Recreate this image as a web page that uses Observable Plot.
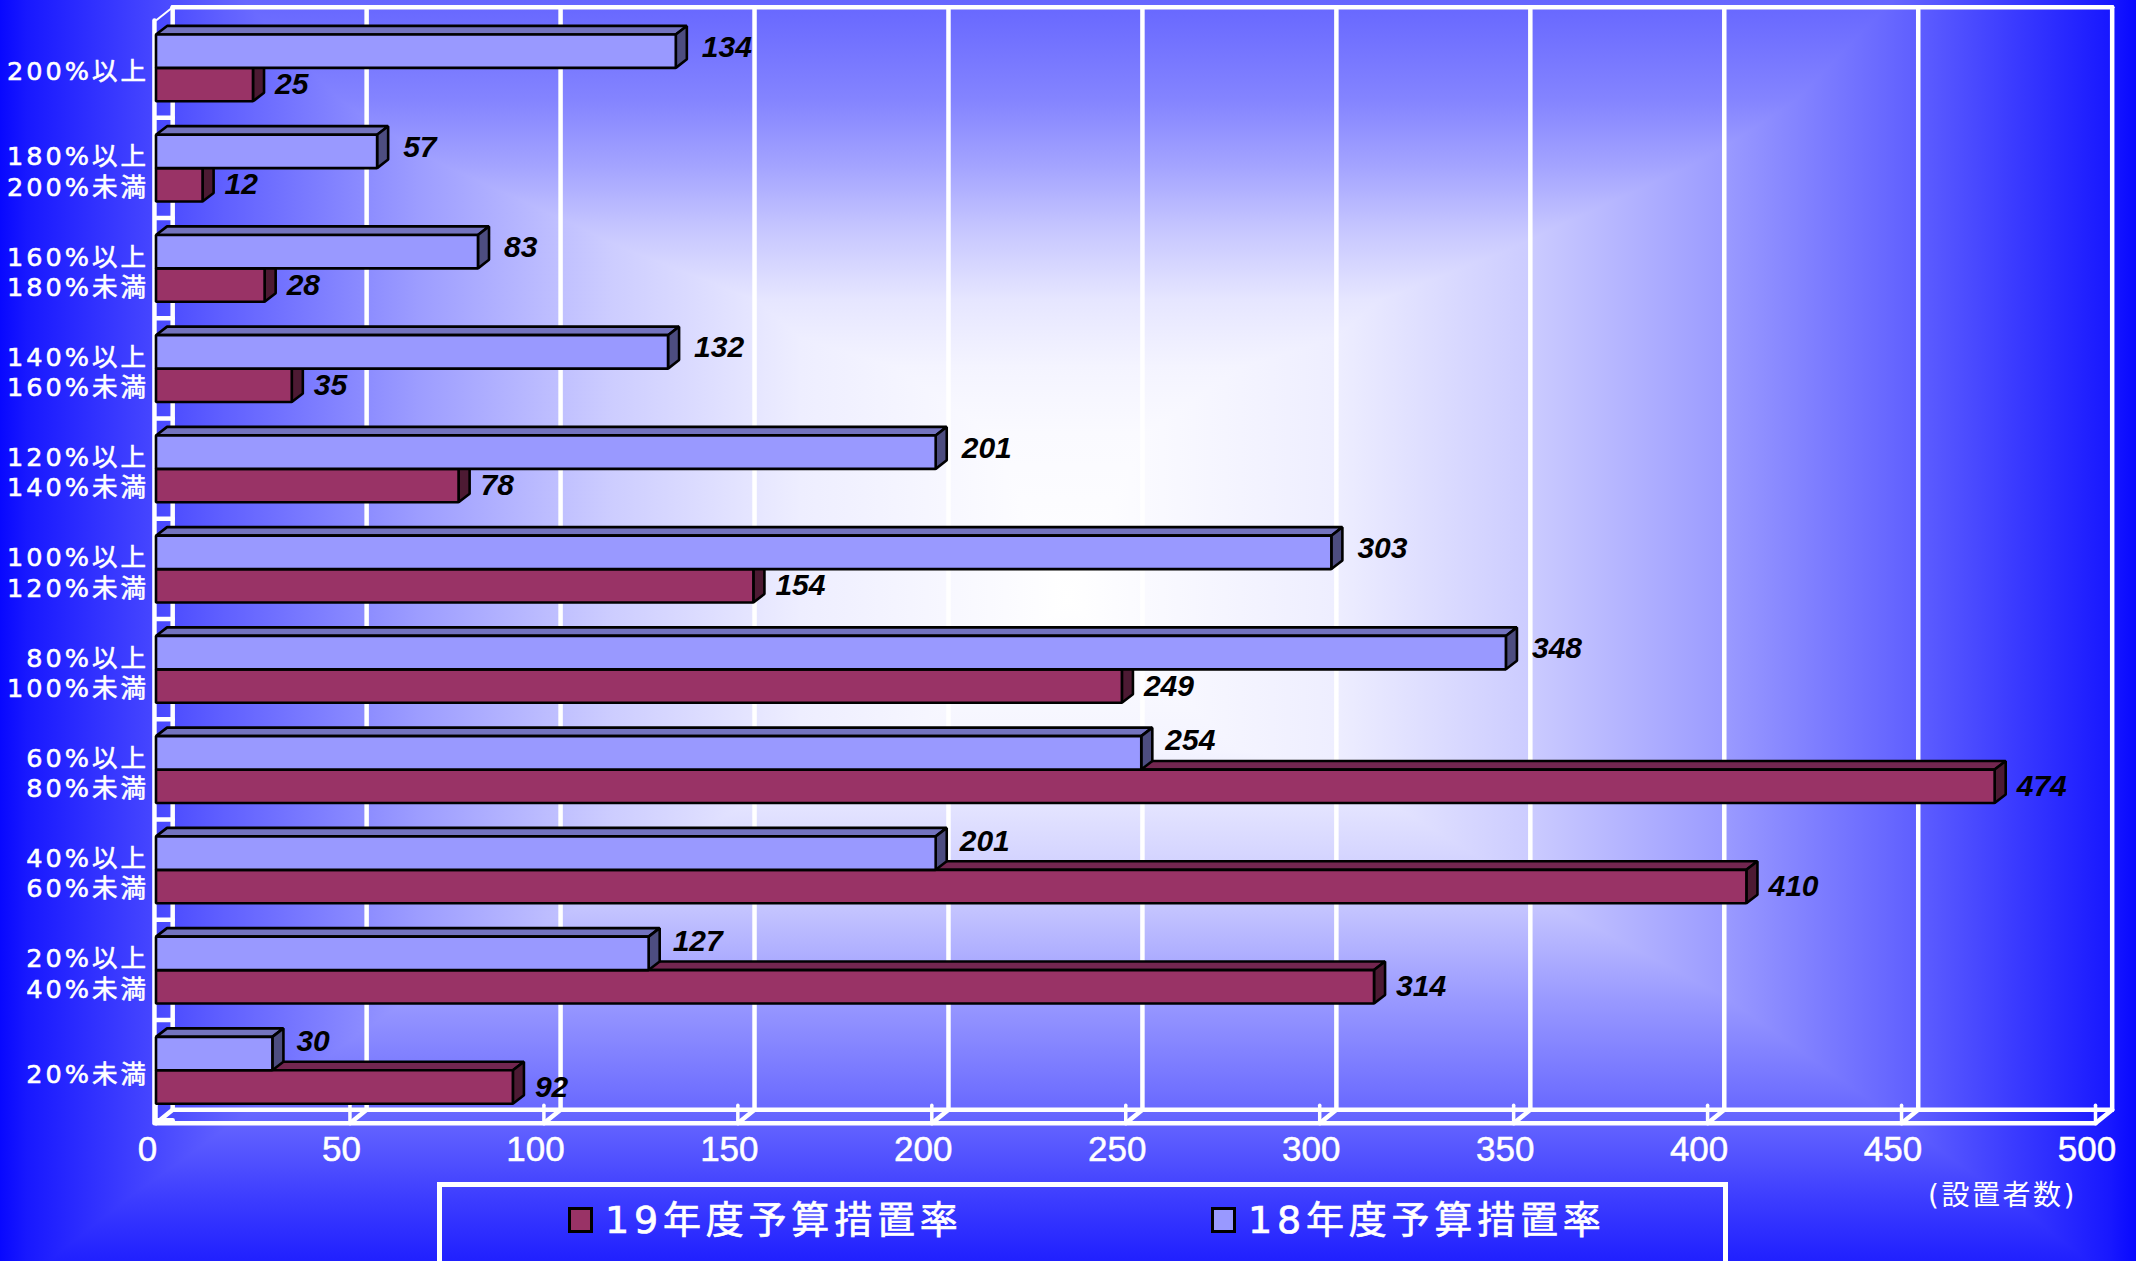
<!DOCTYPE html>
<html lang="ja">
<head>
<meta charset="utf-8">
<script src="https://cdn.jsdelivr.net/npm/d3@7"></script>
<script src="https://cdn.jsdelivr.net/npm/@observablehq/plot@0.6"></script>
<style>
  html, body { margin: 0; padding: 0; width: 2136px; height: 1261px; overflow: hidden; }
  body {
    position: relative;
    background-color: #fff;
    background-image:
      linear-gradient(to right, #0808ff 0, #1818ff 1.25%, #6060ff 10.5%, #9c9cff 19.5%, #ccccff 28.5%, #eeeeff 37.5%, #ffffff 50%, #eeeeff 62.5%, #ccccff 71.5%, #9c9cff 80.5%, #6060ff 89.5%, #1818ff 98.75%, #0808ff 100%),
      linear-gradient(to bottom, #6666ff 0, #8484ff 100px, #a4a4ff 167px, #c8c8ff 233px, #e6e6ff 300px, #f4f4ff 367px, #fafaff 433px, #ffffff 600px, #f4f4ff 750px, #c8c8ff 900px, #9999ff 1000px, #6060ff 1130px, #3c3cff 1200px, #2020ff 1261px);
    background-blend-mode: darken;
  }
  #chart { position: absolute; left: 0; top: 0; }
  .category-label { letter-spacing: 3px; stroke: #fff; stroke-width: 0.6px; }
  .value-label { stroke: #fff; stroke-width: 0.5px; }
  .legend-box { position: absolute; left: 437px; top: 1182px; width: 1291px; height: 120px; box-sizing: border-box; border: 5px solid #fff; }
  .legend-item { position: absolute; top: 1195px; height: 50px; color: #fff; font: 38px "DejaVu Sans", "Noto Sans CJK JP", sans-serif; letter-spacing: 4.8px; line-height: 50px; white-space: nowrap; -webkit-text-stroke: 0.7px #fff; }
  .legend-item i { position: absolute; left: -37px; top: 12px; width: 25px; height: 26px; box-sizing: border-box; border: 3px solid #000; -webkit-text-stroke: 0; }
  .unit { position: absolute; left: 1928px; top: 1177px; color: #fff; font: 28px "DejaVu Sans", "Noto Sans CJK JP", sans-serif; letter-spacing: 2.5px; line-height: 38px; white-space: nowrap; }
</style>
</head>
<body>
<div id="chart"></div>
<div class="legend-box"></div>
<div class="legend-item" style="left:605px"><i style="background:#993366"></i>19年度予算措置率</div>
<div class="legend-item" style="left:1248px"><i style="background:#9999ff"></i>18年度予算措置率</div>
<div class="unit">(設置者数)</div>
<script>
const categories = [
  "200%以上",
  "180%以上\n200%未満",
  "160%以上\n180%未満",
  "140%以上\n160%未満",
  "120%以上\n140%未満",
  "100%以上\n120%未満",
  "80%以上\n100%未満",
  "60%以上\n80%未満",
  "40%以上\n60%未満",
  "20%以上\n40%未満",
  "20%未満"
];
const values18 = [134, 57, 83, 132, 201, 303, 348, 254, 201, 127, 30];
const values19 = [25, 12, 28, 35, 78, 154, 249, 474, 410, 314, 92];
const xTicks = [0, 50, 100, 150, 200, 250, 300, 350, 400, 450, 500];

// Depth of the 3-D frame and of the bars, in data units of each scale.
const wallX = 4.3, wallY = 0.133;
const barX = 2.85, barY = 0.085;
const barStart = 0.139, barThick = 0.3335;
const rows = d3.range(categories.length);

function faces(values, offset, front, top, side) {
  const polys = [];
  values.forEach((v, i) => {
    const y1 = i + offset, y2 = y1 + barThick;
    const add = (id, fill, pts) => pts.forEach(([x, y]) => polys.push({id: `${offset}-${i}-${id}`, fill, x, y}));
    add("top", top, [[0, y1], [barX, y1 - barY], [v + barX, y1 - barY], [v, y1]]);
    add("side", side, [[v, y1], [v + barX, y1 - barY], [v + barX, y2 - barY], [v, y2]]);
    add("front", front, [[0, y1], [v, y1], [v, y2], [0, y2]]);
  });
  return polys;
}
const solid = (polys) => Plot.line(polys, {
  x: "x", y: "y", z: "id", fill: "fill", stroke: "#000", strokeWidth: 2.6,
  curve: "linear-closed", strokeLinejoin: "miter"
});

const white = {stroke: "#fff", strokeWidth: 4.5, strokeLinecap: "round"};
const last = categories.length;
const offsetBlue = barStart, offsetRed = barStart + barThick;
const labelFont = {fontFamily: "'Liberation Sans', Arial, sans-serif", fontWeight: "bold", fontStyle: "italic", fontSize: 30, fill: "#000", textAnchor: "start"};

const chart = Plot.plot({
  width: 2136, height: 1261,
  marginTop: 20, marginBottom: 138.3, marginLeft: 155.5, marginRight: 41,
  style: {background: "transparent", overflow: "visible"},
  x: {domain: [0, 500], axis: null},
  y: {domain: [0, last], reverse: true, axis: null},
  marks: [
    // back wall verticals, top and bottom back edges
    Plot.link(xTicks, {x1: d => d + wallX, x2: d => d + wallX, y1: -wallY, y2: last - wallY, ...white}),
    Plot.link([0], {x1: wallX, x2: 500 + wallX, y1: -wallY, y2: -wallY, ...white}),
    Plot.link([0], {x1: wallX, x2: 500 + wallX, y1: last - wallY, y2: last - wallY, ...white}),
    // left wall
    Plot.link([0], {x1: -0.4, x2: -0.4, y1: 0, y2: last, ...white}),
    Plot.link(d3.range(1, last + 1), {x1: 0, x2: wallX, y1: d => d - 0.03, y2: d => d - 0.03, ...white}),
    Plot.link([0], {x1: 0, x2: wallX, y1: 0, y2: -wallY, stroke: "#fff", strokeWidth: 2}),
    // floor: front edge, diagonal joints, tick stubs
    Plot.link([0], {x1: 0, x2: 500, y1: last, y2: last, ...white}),
    Plot.link(xTicks, {x1: d => d, x2: d => d + wallX, y1: last, y2: last - wallY, ...white}),
    Plot.link(xTicks, {x1: d => d, x2: d => d, y1: last, y2: last - 0.18, ...white, strokeWidth: 3.5}),
    // bars: red first, the blue series lies in front of it
    solid(faces(values19, offsetRed, "#993366", "#732650", "#4d1a33")),
    solid(faces(values18, offsetBlue, "#9999ff", "#7373bf", "#4d4d80")),
    // data labels
    Plot.text(rows.filter(i => values19[i] <= values18[i]), {x: i => values18[i] + barX, y: i => i + offsetBlue + barThick / 2, text: i => String(values18[i]), dx: 15, dy: -4, ...labelFont}),
    Plot.text(rows.filter(i => values19[i] > values18[i]), {x: i => values18[i] + barX, y: i => i + offsetBlue + barThick / 2, text: i => String(values18[i]), dx: 13, dy: -12, ...labelFont}),
    Plot.text(rows, {x: i => values19[i] + barX, y: i => i + offsetRed + barThick / 2, text: i => String(values19[i]), dx: 11, dy: 0, ...labelFont}),
    // category labels
    Plot.text(rows, {x: 0, y: i => i + 0.5, text: i => categories[i], textAnchor: "end", dx: -7, fontFamily: "'DejaVu Sans','Noto Sans CJK JP',sans-serif", fontSize: 25.5, lineHeight: 1.18, fill: "#fff"}),
    // value axis labels
    Plot.axisX(xTicks, {anchor: "bottom", tickSize: 0, tickPadding: 13, dx: -8.5, label: null, fontSize: 35, fontFamily: "'Liberation Sans', Arial, sans-serif", color: "#fff", fill: "#fff", tickFormat: d => String(d)})
  ]
});
d3.select(chart).selectAll("text").each(function () {
  const t = this.textContent;
  if (t.includes("%")) this.classList.add("category-label");
  else if (xTicks.map(String).includes(t) && this.getAttribute("fill") !== "#000" && this.parentNode.getAttribute("fill") !== "#000") this.classList.add("value-label");
});
document.getElementById("chart").appendChild(chart);
</script>
</body>
</html>
